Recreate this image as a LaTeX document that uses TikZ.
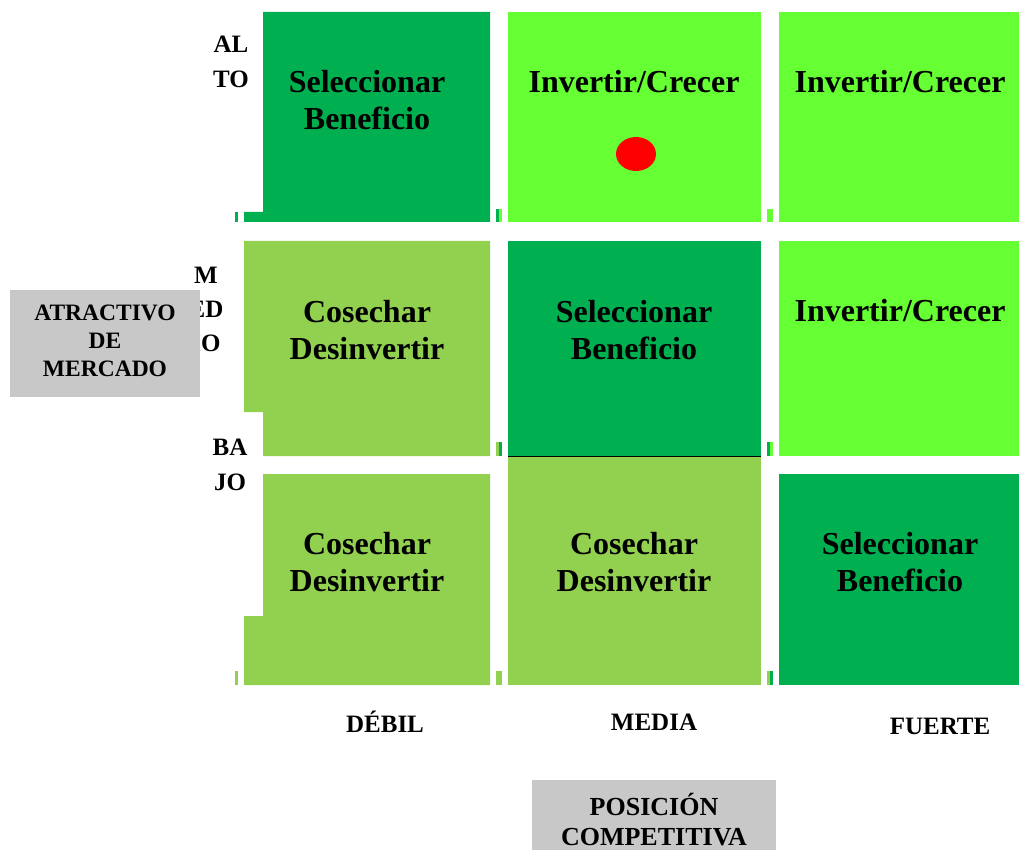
\documentclass[tikz,border=0pt]{standalone}
\usepackage{fontspec}
\setmainfont{Liberation Serif}
\usepackage{tikz}
\definecolor{verdeosc}{HTML}{00B050}
\definecolor{verdecla}{HTML}{66FF33}
\definecolor{oliva}{HTML}{92D050}
\definecolor{gris}{HTML}{C8C8C8}
\begin{document}
\begin{tikzpicture}[x=1pt,y=-1pt,
    celda/.style={align=center,font=\fontsize{32}{36.5}\selectfont\bfseries,inner sep=0pt},
    eje/.style={align=center,font=\fontsize{25}{35}\selectfont\bfseries,inner sep=0pt},
    caja/.style={align=center,fill=gris,inner sep=0pt}]
            \useasboundingbox (0,0) rectangle (1019,850);

            \fill[verdeosc] (263,12) -- (490,12) -- (490,222) -- (244,222) -- (244,212) -- (263,212) -- cycle;
            \fill[verdecla] (508,12) rectangle (761,222);
            \fill[verdecla] (779,12) rectangle (1019,222);
            \fill[oliva] (244,241) -- (490,241) -- (490,456) -- (263,456) -- (263,412) -- (244,412) -- cycle;
            \fill[verdeosc] (508,241) rectangle (761,456);
            \fill[verdecla] (779,241) rectangle (1019,456);
            \fill[oliva] (263,474) -- (490,474) -- (490,685) -- (244,685) -- (244,616) -- (263,616) -- cycle;
            \fill[oliva] (508,457) rectangle (761,685);
            \fill[verdeosc] (779,474) rectangle (1019,685);
            \draw[line width=1.2pt] (508,456.5) -- (761,456.5);

            \fill[verdeosc] (235,212) rectangle (238,222);
            \fill[verdeosc] (496,209) rectangle (499,222);
            \fill[verdecla] (499,209) rectangle (502,222);
            \fill[verdecla] (767,209) rectangle (773,222);
            \fill[oliva] (496,442) rectangle (499,456);
            \fill[verdeosc] (499,442) rectangle (502,456);
            \fill[verdeosc] (767,442) rectangle (770,456);
            \fill[verdecla] (770,442) rectangle (773,456);
            \fill[oliva] (235,671) rectangle (238,685);
            \fill[oliva] (496,671) rectangle (502,685);
            \fill[oliva] (767,671) rectangle (770,685);
            \fill[verdeosc] (770,671) rectangle (773,685);

            \fill[red] (636,154) ellipse (20 and 17);

            \node[celda] (c11) at (367,100) {Seleccionar\\Beneficio};
            \node[celda] (c12) at (634,82) {Invertir/Crecer};
            \node[celda] (c13) at (900,82) {Invertir/Crecer};
            \node[celda] (c21) at (367,330) {Cosechar\\Desinvertir};
            \node[celda] (c22) at (634,330) {Seleccionar\\Beneficio};
            \node[celda] (c23) at (900,311) {Invertir/Crecer};
            \node[celda] (c31) at (367,562) {Cosechar\\Desinvertir};
            \node[celda] (c32) at (634,562) {Cosechar\\Desinvertir};
            \node[celda] (c33) at (900,562) {Seleccionar\\Beneficio};

            \node[eje] (alto) at (231,62) {AL\\TO};
            \node[eje,font=\fontsize{25}{34}\selectfont\bfseries] (medio) at (206,309) {M\\ED\\IO};
            \node[eje] (bajo) at (230,465) {BA\\JO};
            \node[eje] (debil) at (385,722) {DÉBIL};
            \node[eje] (media) at (654,722) {MEDIA};
            \node[eje] (fuerte) at (940,726) {FUERTE};

            \fill[gris] (10,290) rectangle (200,397);
            \node[caja,font=\fontsize{23.5}{28}\selectfont\bfseries] (atractivo) at (105,341) {ATRACTIVO\\DE\\MERCADO};
            \fill[gris] (532,780) rectangle (776,850);
            \node[caja,font=\fontsize{26}{30}\selectfont\bfseries] (posicion) at (654,820) {POSICIÓN\\COMPETITIVA};
        \end{tikzpicture}
\end{document}
